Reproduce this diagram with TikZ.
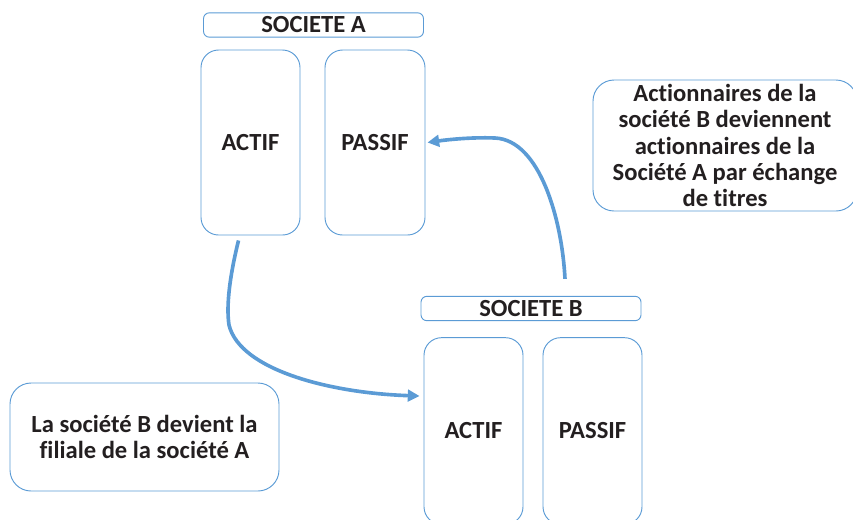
\documentclass[tikz,border=0pt]{standalone}
\usepackage{fontspec}
\setmainfont{Carlito}[RawFeature={-liga}]
\usetikzlibrary{arrows.meta}

\definecolor{boxblue}{RGB}{91,155,213}
\definecolor{txt}{RGB}{35,31,32}

\begin{document}
\begin{tikzpicture}[x=0.03cm, y=-0.03cm,
    every node/.style={font=\bfseries\fontsize{21}{22.4}\selectfont, text=txt},
    head/.style={draw=boxblue, line width=0.8pt, rounded corners=5pt, minimum width=6.6cm, minimum height=0.73cm, inner sep=0pt},
    col/.style={draw=boxblue, line width=0.8pt, rounded corners=15pt, minimum width=2.97cm, minimum height=5.55cm, inner sep=0pt},
    note/.style={draw=boxblue, line width=0.8pt, rounded corners=18pt, align=center, inner sep=0pt},
    flow/.style={draw=boxblue, line width=3.1pt, -{Triangle[length=10pt,width=10pt]}}]

  % frame of the picture
  \useasboundingbox (0,0) rectangle (853,519);

  % Societe A
  \node[head] (headA) at (313.5,25) {SOCIETE A};
  \node[col] (actifA) at (250.5,142.5) {ACTIF};
  \node[col, minimum width=3cm] (passifA) at (375,142.5) {PASSIF};

  % Societe B
  \node[head] (headB) at (531,308.5) {SOCIETE B};
  \node[col, minimum height=5.6cm] (actifB) at (473.5,431) {ACTIF};
  \node[col, minimum height=5.6cm] (passifB) at (592.5,431) {PASSIF};

  % Notes
  \node[note, minimum width=7.92cm, minimum height=3.93cm] (noteR) at (725,145.5)
    {Actionnaires de la\\société B deviennent\\actionnaires de la\\Société A par échange\\de titres};
  \node[note, minimum width=8.07cm, minimum height=3.24cm] (noteL) at (144.5,437)
    {La société B devient la\\filiale de la société A};

  % Arrows
  \coordinate (outA) at ([shift={(-12,5)}]actifA.south);
  \coordinate (inB) at ([shift={(-4,-35)}]actifB.west);
  \coordinate (outB) at ([shift={(34,-17)}]headB.north);
  \coordinate (inA) at ([shift={(2,0)}]passifA.east);

  \draw[flow] (outA) .. controls (230,275) and (226,305) .. (229,325)
    .. controls (240,370) and (330,393) .. (inB);
  \draw[flow] (outB) .. controls (562,220) and (540,140) .. (495,138)
    .. controls (470,137) and (445,140) .. (inA);
\end{tikzpicture}
\end{document}
